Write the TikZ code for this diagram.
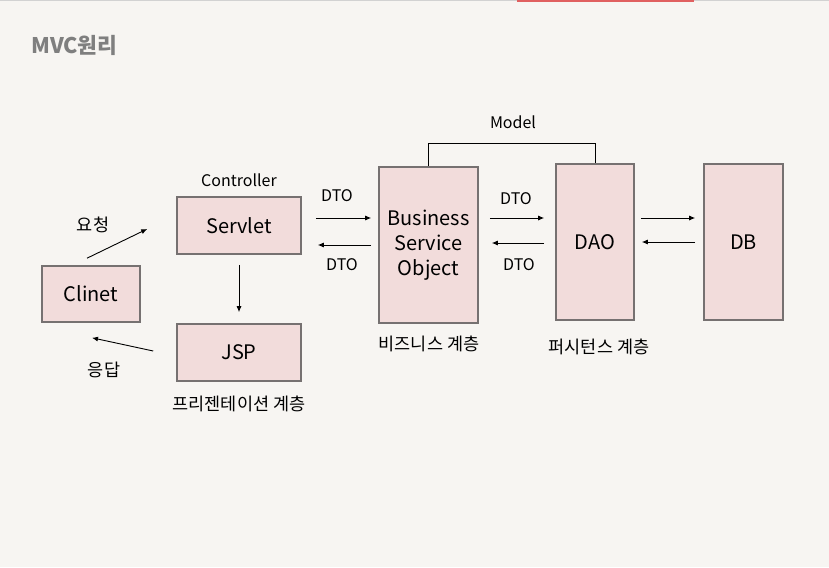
\documentclass[tikz,border=0pt]{standalone}
\usepackage{fontspec}
\setmainfont{Noto Sans CJK KR}
\usetikzlibrary{arrows.meta}
\definecolor{pagebg}{HTML}{F7F5F2}
\definecolor{boxfill}{HTML}{F2DCDB}
\definecolor{boxline}{HTML}{767171}
\definecolor{titlegray}{HTML}{7F7F7F}
\definecolor{topred}{HTML}{E06060}
\tikzstyle{layerBox}=[shape = rectangle, draw = boxline, line width = 1.6pt, fill = boxfill, inner sep = 0pt, font = \fontsize{20}{25}\selectfont, align = center]
\tikzstyle{smallText}=[inner sep = 0pt, font = \fontsize{16}{19}\selectfont]
\tikzstyle{korText}=[inner sep = 0pt, font = \fontsize{17.5}{21}\selectfont]
\tikzstyle{arr}=[-{Latex[length=6pt,width=5pt]}, line width = 0.9pt]

\begin{document}
\begin{tikzpicture}[x = 1pt, y = -1pt]
\fill[pagebg] (0,0) rectangle (829,567);
\useasboundingbox (0,0) rectangle (829,567);
\fill[gray!35] (0,0) rectangle (829,1.5);
\fill[topred] (517,0) rectangle (694,2);
\node[anchor = west, inner sep = 0pt, text = titlegray, font = \fontsize{21.5}{25}\selectfont\bfseries] (title) at (31,45) {MVC원리};
% boxes
\node[layerBox, minimum width = 98pt, minimum height = 56pt] (cl) at (91,294) {Clinet};
\node[layerBox, minimum width = 124pt, minimum height = 57pt] (sv) at (239,225.5) {Servlet};
\node[layerBox, minimum width = 124pt, minimum height = 57pt] (jsp) at (239,352.5) {JSP};
\node[layerBox, minimum width = 99pt, minimum height = 156pt] (bso) at (428.5,245) {Business\\Service\\Object};
\node[layerBox, minimum width = 78pt, minimum height = 156pt] (dao) at (595,242) {DAO};
\node[layerBox, minimum width = 79pt, minimum height = 156pt] (db) at (743.5,242) {DB};
% labels
\node[smallText] (ctrl) at (239,180) {Controller};
\node[smallText] (model) at (513,122) {Model};
\node[korText] (req) at (93,225) {요청};
\node[korText] (resp) at (104,370) {응답};
\node[smallText] (dto1) at (337,196) {DTO};
\node[smallText] (dto2) at (342,265) {DTO};
\node[smallText] (dto3) at (516,199) {DTO};
\node[smallText] (dto4) at (519,265) {DTO};
\node[korText] (pres) at (239,404) {프리젠테이션 계층};
\node[korText] (biz) at (429,344) {비즈니스 계층};
\node[korText] (pers) at (599,347) {퍼시턴스 계층};
% connectors
\draw[line width = 0.9pt] (bso.north) -- ++(0,-23) -| (dao.north);
\draw[arr] ([shift={(-4,-7)}]cl.north) -- ([shift={(-29,3.5)}]sv.west);
\draw[arr] ([shift={(-23,-1.5)}]jsp.west) -- ([shift={(1,15)}]cl.south);
\draw[arr] ([shift={(0,10)}]sv.south) -- ([shift={(0,-11)}]jsp.north);
\draw[arr] ([shift={(14,-7.5)}]sv.east) -- ([shift={(-7,-27)}]bso.west);
\draw[arr] ([shift={(-7,0)}]bso.west) -- ([shift={(16,19.5)}]sv.east);
\draw[arr] ([shift={(11,-27)}]bso.east) -- ([shift={(-11,-24)}]dao.west);
\draw[arr] ([shift={(-11,1)}]dao.west) -- ([shift={(13,-2)}]bso.east);
\draw[arr] ([shift={(6,-24)}]dao.east) -- ([shift={(-8,-24)}]db.west);
\draw[arr] ([shift={(-8,0)}]db.west) -- ([shift={(7,0)}]dao.east);
\end{tikzpicture}
\end{document}
